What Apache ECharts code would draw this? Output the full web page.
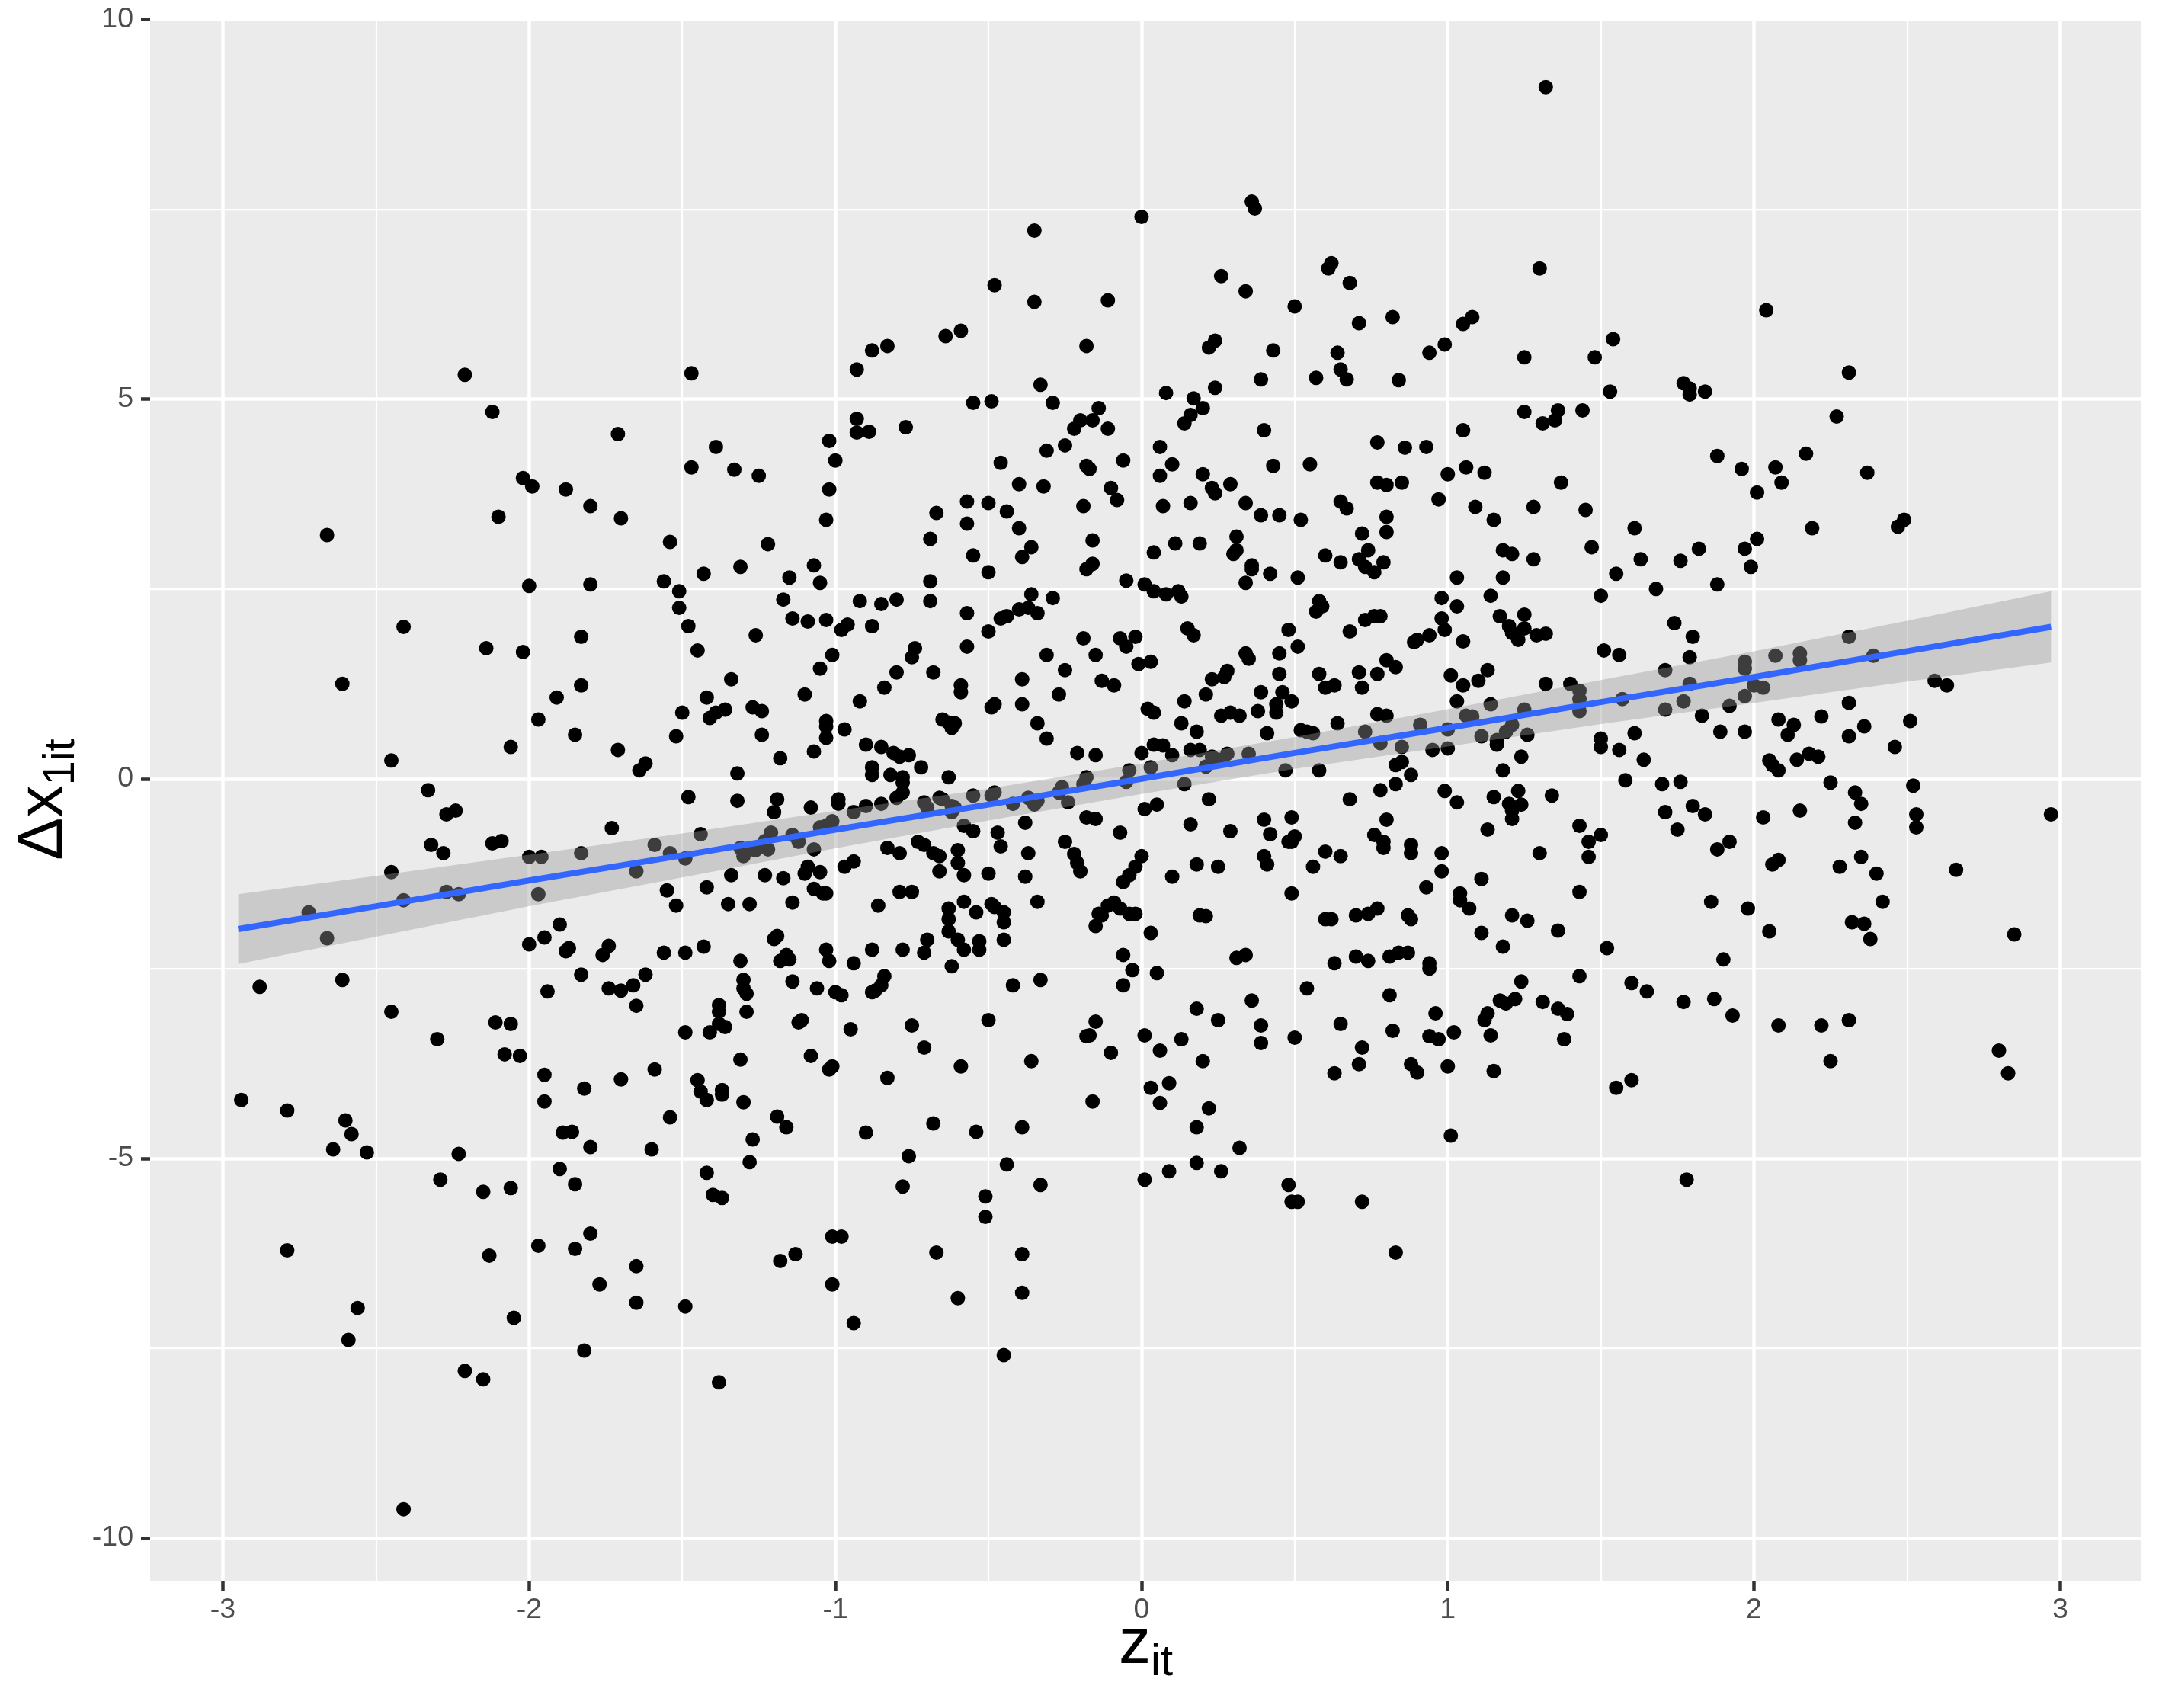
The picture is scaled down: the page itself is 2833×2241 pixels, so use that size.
<!DOCTYPE html>
<html>
<head>
<meta charset="utf-8">
<style>html,body{margin:0;padding:0;background:#fff}#c{width:2833px;height:2241px}</style>
<script src="https://cdn.jsdelivr.net/npm/echarts@6/dist/echarts.min.js"></script>
</head>
<body>
<div id="c"></div>
<script>
const xTicks=[-3,-2,-1,0,1,2,3];
const xMinor=[-2.5,-1.5,-0.5,0.5,1.5,2.5];
const yTicks=[-10,-5,0,5,10];
const yMinor=[-7.5,-2.5,2.5,7.5];
const xTitle='{a|z}{b|it}';
const yTitle='{a|Δx}{b|1it}';

const ribbonZ=[-2.95,-2.5,-2,-1.5,-1,-0.5,0,0.5,1,1.5,2,2.5,2.97];
const fitLine=[-1.98,-1.68,-1.34,-1.01,-0.67,-0.34,0,0.34,0.67,1.01,1.34,1.68,2.0];
const ribbonUpper=[-1.52,-1.28,-1.0,-0.72,-0.425,-0.13,0.2,0.55,0.915,1.3,1.68,2.08,2.47];
const ribbonLower=[-2.44,-2.08,-1.68,-1.3,-0.915,-0.55,-0.2,0.13,0.425,0.72,1.0,1.28,1.53];

const ptsA=[[-2.94,-4.23],[-2.88,-2.74],[-2.79,-6.21],[-2.79,-4.37],[-2.72,-1.76],[-2.66,3.21],[-2.66,-2.1],[-2.64,-4.88],[-2.61,1.25],[-2.61,-2.65],[-2.6,-4.5],[-2.59,-7.39],[-2.58,-4.68],[-2.56,-6.97],[-2.53,-4.92],[-2.45,0.24],[-2.45,-3.07],[-2.45,-1.23],[-2.41,-1.6],[-2.41,2.0],[-2.41,-9.62],[-2.33,-0.15],[-2.32,-0.87],[-2.3,-3.43],[-2.29,-5.28],[-2.28,-0.98],[-2.27,-1.49],[-2.27,-0.47],[-2.24,-0.42],[-2.23,-4.94],[-2.23,-1.52],[-2.21,-7.8],[-2.21,5.32],[-2.15,-7.91],[-2.15,-5.44],[-2.14,1.72],[-2.13,-6.28],[-2.12,-0.85],[-2.12,4.83],[-2.11,-3.21],[-2.1,3.45],[-2.09,-0.82],[-2.08,-3.63],[-2.06,-3.23],[-2.06,0.42],[-2.06,-5.39],[-2.05,-7.1],[-2.03,-3.65],[-2.02,1.67],[-2.02,3.96],[-2.0,-2.18]];
const ptsB=[[-2.0,-1.03],[-1.99,3.85],[-2.0,2.54],[-1.97,0.78],[-1.97,-1.52],[-1.97,-6.15],[-1.95,-3.9],[-1.95,-2.09],[-1.95,-4.25],[-1.94,-2.8],[-1.96,-1.03],[-1.91,1.07],[-1.9,-1.92],[-1.9,-5.14],[-1.89,-4.66],[-1.88,-2.27],[-1.88,3.81],[-1.87,-2.23],[-1.86,-4.65],[-1.85,-6.19],[-1.85,0.58],[-1.85,-5.34],[-1.83,1.23],[-1.83,1.87],[-1.83,-2.58],[-1.83,-0.98],[-1.82,-7.53],[-1.82,-4.08],[-1.8,3.59],[-1.8,2.56],[-1.8,-4.85],[-1.8,-5.99],[-1.77,-6.66],[-1.76,-2.32],[-1.74,-2.2],[-1.74,-2.76],[-1.73,-0.65],[-1.71,0.38],[-1.71,4.54],[-1.7,-2.79],[-1.7,3.43],[-1.7,-3.96],[-1.66,-2.72],[-1.65,-6.42],[-1.65,-2.99],[-1.65,-1.22],[-1.65,-6.9],[-1.64,0.11],[-1.62,0.2],[-1.62,-2.58],[-1.6,-4.88],[-1.59,-0.87],[-1.59,-3.83],[-1.56,-2.29],[-1.56,2.6],[-1.55,-1.47],[-1.54,-0.98],[-1.54,3.12],[-1.54,-4.46],[-1.52,0.56],[-1.52,-1.67]];
const ptsC=[[-1.51,2.47],[-1.51,2.25],[-1.5,0.87],[-1.49,-2.29],[-1.49,-3.34],[-1.49,-6.95],[-1.49,-1.05],[-1.48,2.01],[-1.48,-0.24],[-1.47,5.34],[-1.47,4.1],[-1.45,1.69],[-1.45,-3.97],[-1.44,-0.73],[-1.44,-4.12],[-1.43,-2.21],[-1.43,2.7],[-1.42,1.07],[-1.42,-5.19],[-1.42,-1.43],[-1.42,-4.23],[-1.41,-3.34],[-1.41,0.8],[-1.4,-5.48],[-1.39,4.37],[-1.39,0.87],[-1.38,-3.23],[-1.38,-7.95],[-1.38,-2.98],[-1.38,-3.07],[-1.37,-4.16],[-1.37,-5.52],[-1.37,-4.1],[-1.36,-3.27],[-1.36,0.91],[-1.35,-1.65],[-1.34,1.31],[-1.34,-1.27],[-1.33,4.07],[-1.32,0.07],[-1.32,-0.29],[-1.31,-3.7],[-1.31,2.79],[-1.31,-2.4],[-1.31,-0.91],[-1.3,-2.65],[-1.3,-2.76],[-1.3,-1.02],[-1.3,-4.26],[-1.29,-2.83],[-1.29,-3.07],[-1.28,-1.65],[-1.28,-5.05],[-1.27,0.94],[-1.27,-4.75],[-1.26,1.89],[-1.25,3.99],[-1.26,-0.94],[-1.24,0.89],[-1.24,0.58],[-1.23,-0.82],[-1.23,-1.27],[-1.22,3.09],[-1.22,-0.93],[-1.21,-0.71],[-1.2,-0.44],[-1.2,-2.11],[-1.19,-2.07],[-1.19,-0.27],[-1.19,-4.45],[-1.18,-6.35],[-1.18,0.27],[-1.18,-2.4],[-1.17,-1.31],[-1.17,2.36],[-1.16,-2.32],[-1.16,-4.59],[-1.15,-2.38],[-1.15,2.65],[-1.14,-1.63],[-1.14,-2.67],[-1.14,2.11],[-1.13,-6.26],[-1.12,-0.83],[-1.12,-3.21],[-1.11,-3.18],[-1.1,-1.25],[-1.1,1.11],[-1.09,2.07],[-1.09,-1.16],[-1.08,-3.65],[-1.08,-0.38],[-1.07,-1.45],[-1.07,0.36],[-1.07,-0.93],[-1.07,2.81],[-1.06,-2.76],[-1.05,1.45],[-1.05,2.58],[-1.05,-1.23],[-1.05,-0.64],[-1.04,-1.51],[-1.03,3.41],[-1.03,-2.25],[-1.03,2.09],[-1.03,0.54],[-1.03,0.76],[-1.02,3.81],[-1.02,4.45],[-1.03,0.69],[-1.03,-1.51],[-1.02,-2.4],[-1.02,-3.83],[-1.01,-0.56],[-1.01,-6.03],[-1.01,-6.66],[-1.01,-3.79],[-1.01,1.63],[-1.0,4.19],[-1.0,-2.81],[-0.99,-0.33],[-0.99,-0.27],[-0.98,1.96],[-0.98,-6.03],[-0.98,-2.85],[-0.97,0.65],[-0.97,-1.16]];
const ptsD=[[-0.96,2.03],[-0.95,-3.3],[-0.94,-2.43],[-0.94,-7.17],[-0.94,-1.09],[-0.93,5.39],[-0.93,4.74],[-0.93,4.56],[-0.92,1.02],[-0.92,2.34],[-0.9,-4.66],[-0.9,-0.36],[-0.9,0.45],[-0.89,4.57],[-0.88,5.64],[-0.88,2.01],[-0.88,0.15],[-0.88,0.05],[-0.88,-2.25],[-0.88,-2.81],[-0.87,-2.79],[-0.86,-1.67],[-0.85,2.3],[-0.85,-2.72],[-0.85,0.42],[-0.85,-0.33],[-0.84,-2.6],[-0.84,1.2],[-0.83,5.7],[-0.83,-0.91],[-0.83,-3.94],[-0.82,0.05],[-0.81,0.34],[-0.8,1.4],[-0.8,2.36],[-0.79,0.29],[-0.79,-0.98],[-0.79,-1.49],[-0.78,-0.18],[-0.78,-0.05],[-0.78,0.02],[-0.78,-5.37],[-0.78,-2.25],[-0.77,4.63],[-0.76,0.31],[-0.76,-4.97],[-0.75,-1.49],[-0.75,-3.25],[-0.75,1.6],[-0.74,1.72],[-0.73,-0.83],[-0.72,0.15],[-0.71,-0.87],[-0.71,-2.29],[-0.71,-0.31],[-0.71,-3.54],[-0.7,-2.12],[-0.69,2.6],[-0.69,2.34],[-0.69,3.16],[-0.68,-0.98],[-0.68,1.4],[-0.68,-4.54],[-0.67,3.5],[-0.67,-6.24],[-0.66,-0.25],[-0.66,-1.02],[-0.66,-1.22],[-0.65,0.78],[-0.65,-0.27],[-0.64,5.83],[-0.63,-1.71],[-0.63,-1.85],[-0.63,0.74],[-0.63,0.02],[-0.63,-2.01],[-0.62,-0.36],[-0.62,0.67],[-0.62,-0.44],[-0.62,-2.47],[-0.61,0.73],[-0.6,-2.12],[-0.6,-0.94],[-0.6,-6.84],[-0.6,-1.11],[-0.59,-3.79],[-0.59,5.9],[-0.59,1.23],[-0.59,1.14],[-0.58,-2.25],[-0.58,-1.62],[-0.58,-0.62],[-0.58,-1.27],[-0.57,3.36],[-0.57,3.65],[-0.57,2.18],[-0.57,1.74],[-0.55,4.95],[-0.55,2.94],[-0.55,-0.69],[-0.55,-0.22],[-0.54,-4.65],[-0.54,-1.76],[-0.53,-2.14],[-0.53,-2.25],[-0.51,-5.5],[-0.51,-5.77],[-0.5,2.72],[-0.5,3.63],[-0.5,-1.25],[-0.5,1.94],[-0.5,-3.18]];
const ptsE=[[-0.49,4.97],[-0.49,0.94],[-0.49,-1.65],[-0.48,0.98],[-0.48,6.5],[-0.48,-1.69],[-0.48,-0.18],[-0.47,-0.71],[-0.46,4.16],[-0.46,-0.89],[-0.46,2.11],[-0.45,-1.76],[-0.45,-2.12],[-0.45,-1.89],[-0.45,-7.59],[-0.44,-5.08],[-0.44,2.14],[-0.44,3.52],[-0.42,-2.72],[-0.4,2.23],[-0.4,3.88],[-0.4,3.3],[-0.39,1.31],[-0.39,0.98],[-0.39,-6.77],[-0.39,-4.59],[-0.39,-6.26],[-0.38,-0.58],[-0.39,2.92],[-0.38,-1.29],[-0.37,2.25],[-0.36,-3.72],[-0.36,2.43],[-0.35,7.22],[-0.36,3.05],[-0.35,6.28],[-0.35,-0.34],[-0.34,2.18],[-0.34,0.73],[-0.34,-0.29],[-0.34,-1.62],[-0.33,-5.35],[-0.33,5.19],[-0.33,-2.65],[-0.32,3.85],[-0.31,4.32],[-0.31,1.63],[-0.31,0.53],[-0.29,2.38],[-0.29,4.95],[-0.27,1.11],[-0.27,-0.18],[-0.25,4.39],[-0.25,1.43],[-0.25,-0.83],[-0.24,-0.31],[-0.22,-0.99],[-0.22,4.61],[-0.21,-1.11],[-0.21,0.34],[-0.2,4.72],[-0.2,-1.22],[-0.19,3.59],[-0.19,1.85],[-0.18,2.76],[-0.18,4.12],[-0.18,0.02],[-0.18,-3.39],[-0.18,5.7],[-0.18,-0.51],[-0.17,4.08],[-0.17,-3.38],[-0.16,3.14],[-0.16,2.83],[-0.16,4.72],[-0.16,-4.25],[-0.15,1.63],[-0.15,0.31],[-0.15,-0.53],[-0.15,-1.94],[-0.15,-3.2],[-0.14,4.88],[-0.14,-1.78],[-0.13,1.29],[-0.13,-1.8],[-0.11,6.3],[-0.11,4.61],[-0.11,-1.67],[-0.1,3.83],[-0.1,-3.61],[-0.09,-1.63],[-0.09,1.23],[-0.08,3.67],[-0.07,1.85],[-0.07,-1.71],[-0.07,-0.71],[-0.06,-2.72],[-0.06,-2.32],[-0.06,4.19],[-0.06,-1.36],[-0.05,-0.04],[-0.05,2.61],[-0.05,1.74],[-0.04,-1.78],[-0.04,-1.27],[-0.03,-2.52],[-0.02,-1.78],[-0.02,1.87],[-0.02,-1.16],[-0.01,1.51],[0,-1.02],[0,7.4],[0,0.34],[0.01,2.56],[0.01,-3.38]];
const ptsF=[[0.01,-5.28],[0.01,-0.4],[0.03,-2.03],[0.03,-4.07],[0.03,1.54],[0.04,2.47],[0.04,0.87],[0.04,0.45],[0.04,2.98],[0.05,-0.34],[0.05,-2.56],[0.06,4.37],[0.06,-3.58],[0.06,3.99],[0.06,-4.27],[0.07,0.44],[0.07,3.59],[0.08,5.08],[0.09,-4.01],[0.09,-5.17],[0.1,-1.29],[0.1,4.14],[0.11,3.1],[0.12,2.47],[0.13,0.73],[0.13,-3.43],[0.14,-0.07],[0.14,4.68],[0.15,1.98],[0.16,3.63],[0.16,-0.6],[0.16,0.38],[0.16,4.79],[0.17,5.01],[0.18,0.62],[0.18,-3.03],[0.18,-5.06],[0.18,-1.13],[0.18,-4.59],[0.19,-1.8],[0.19,3.1],[0.2,4.88],[0.2,4.01],[0.2,-3.72],[0.21,-1.81],[0.22,-4.34],[0.22,-0.27],[0.22,5.68],[0.23,3.83],[0.24,3.76],[0.24,5.77],[0.24,5.15],[0.25,-1.16],[0.25,-3.18],[0.26,-5.17],[0.26,6.62],[0.27,1.34],[0.28,1.42],[0.29,3.88],[0.29,0.87],[0.29,-0.69],[0.3,2.96],[0.31,3.19],[0.31,3.01],[0.32,-4.86],[0.32,0.83],[0.31,-2.36],[0.34,-2.32],[0.34,6.42],[0.34,3.63],[0.34,2.58],[0.34,1.65],[0.35,1.58],[0.36,7.6],[0.37,7.51],[0.36,2.81],[0.36,2.76],[0.36,-2.92],[0.39,3.47],[0.39,-3.25],[0.39,-3.48],[0.39,5.26],[0.4,4.59],[0.4,-0.54],[0.4,-1.02],[0.41,-1.13],[0.41,0.6],[0.42,2.7],[0.42,-0.73],[0.43,5.64],[0.43,4.12],[0.44,0.98],[0.44,0.87],[0.45,3.47],[0.45,1.65],[0.46,1.14],[0.47,0.11],[0.48,-0.83],[0.48,1.96],[0.48,-5.35],[0.49,-5.57],[0.49,-0.51],[0.49,1.02],[0.49,-0.83],[0.49,-1.51],[0.5,-3.41],[0.5,-0.76],[0.5,6.22],[0.51,-5.57],[0.51,2.65],[0.51,1.74],[0.52,3.41],[0.52,0.64]];
const ptsG=[[0.54,-2.76],[0.55,4.14],[0.56,-1.16],[0.56,0.6],[0.57,5.28],[0.57,2.2],[0.58,2.34],[0.58,0.11],[0.59,2.27],[0.6,1.2],[0.6,-0.96],[0.6,-1.85],[0.6,2.94],[0.61,6.72],[0.62,6.79],[0.62,-1.85],[0.63,-3.88],[0.63,-2.43],[0.64,5.61],[0.64,0.73],[0.65,2.85],[0.65,-3.23],[0.65,5.39],[0.65,3.65],[0.65,-1.02],[0.67,3.56],[0.67,5.26],[0.68,6.53],[0.68,-0.27],[0.68,1.94],[0.7,-1.8],[0.7,-2.34],[0.71,2.89],[0.71,-3.76],[0.71,1.4],[0.71,6.0],[0.72,3.23],[0.72,1.2],[0.72,-3.54],[0.72,-5.57],[0.73,2.09],[0.73,0.62],[0.73,2.79],[0.74,-1.78],[0.74,3.01],[0.74,-2.4],[0.76,2.14],[0.76,-0.74],[0.76,2.72],[0.77,4.43],[0.77,3.9],[0.77,-1.71],[0.77,0.85],[0.78,-0.15],[0.78,2.14],[0.78,0.47],[0.79,2.85],[0.79,-0.83],[0.79,-0.91],[0.8,3.87],[0.8,3.25],[0.8,-0.54],[0.8,3.45],[0.8,1.56],[0.81,-2.34],[0.81,-2.85],[0.82,6.08],[0.82,-3.32],[0.83,1.47],[0.83,-6.24],[0.84,5.25],[0.83,-0.07],[0.83,0.18],[0.84,-2.29],[0.85,3.9],[0.85,0.42],[0.85,0.22],[0.86,4.36],[0.87,-1.8],[0.87,-2.29],[0.88,-1.85],[0.88,0.05],[0.88,-0.87],[0.88,-0.98],[0.88,-3.76],[0.89,1.8],[0.9,-3.87],[0.9,1.83],[0.91,0.71],[0.93,4.37],[0.93,-1.43],[0.94,5.61],[0.94,1.89],[0.94,-2.43],[0.94,-2.5],[0.95,0.38],[0.94,-3.39],[0.97,3.68],[0.96,-3.09],[0.97,-3.43],[0.98,-1.22],[0.98,-0.98],[0.98,2.38],[0.98,2.11],[0.99,5.72],[0.99,-0.16],[1.0,-3.79],[1.0,4.01],[1.0,0.4],[0.99,1.96]];
const ptsH=[[1.01,1.36],[1.01,-4.7],[1.02,-3.34],[1.03,2.27],[1.03,2.65],[1.03,1.02],[1.03,-0.31],[1.04,-1.51],[1.04,-1.6],[1.05,5.99],[1.05,1.81],[1.05,1.23],[1.05,4.59],[1.06,4.1],[1.07,-1.71],[1.08,6.08],[1.08,0.82],[1.09,3.58],[1.1,1.29],[1.11,-1.32],[1.11,-2.03],[1.11,0.56],[1.12,4.03],[1.12,-3.18],[1.13,-3.09],[1.13,1.43],[1.13,-0.67],[1.14,2.41],[1.14,-3.38],[1.15,3.41],[1.15,-0.24],[1.15,-3.85],[1.16,0.45],[1.16,0.51],[1.17,-2.92],[1.17,2.14],[1.18,3.01],[1.18,-2.21],[1.18,0.11],[1.19,0.62],[1.18,2.65],[1.19,-2.96],[1.2,2.01],[1.2,-0.33],[1.21,-1.8],[1.21,1.92],[1.21,2.96],[1.21,-0.42],[1.21,-0.53],[1.21,0.71],[1.22,-2.9],[1.23,-0.16],[1.23,1.83],[1.24,0.29],[1.24,-0.34],[1.24,-2.67],[1.25,4.83],[1.25,2.16],[1.25,5.55],[1.25,1.98],[1.26,0.58],[1.26,-1.87],[1.28,2.89],[1.28,3.58],[1.29,1.89],[1.3,6.72],[1.3,-0.98],[1.31,4.68],[1.31,-2.94],[1.32,1.25],[1.32,1.91],[1.32,9.11],[1.34,-0.22],[1.35,4.72],[1.36,-3.03],[1.36,-2.0],[1.36,4.85],[1.37,3.9],[1.39,-3.1],[1.38,-3.43],[1.43,1.05],[1.43,1.16],[1.43,0.89],[1.43,-0.62],[1.43,-1.49],[1.43,-2.6],[1.44,4.85],[1.45,3.54],[1.46,-1.03],[1.46,-0.83],[1.47,3.05],[1.48,5.55],[1.5,0.53],[1.5,-0.74],[1.5,2.41],[1.5,0.42],[1.51,1.69]];
const ptsI=[[1.52,-2.23],[1.53,5.1],[1.54,5.79],[1.55,2.7],[1.56,0.38],[1.55,-4.07],[1.56,1.63],[1.57,1.05],[1.58,-0.02],[1.6,-2.69],[1.61,3.3],[1.6,-3.97],[1.61,0.6],[1.63,2.89],[1.64,0.25],[1.65,-2.8],[1.68,2.5],[1.7,-0.07],[1.71,-0.44],[1.71,1.43],[1.71,0.91],[1.74,2.05],[1.75,-0.67],[1.76,-0.04],[1.76,2.87],[1.77,1.02],[1.77,5.21],[1.77,-2.94],[1.78,-5.28],[1.79,5.14],[1.79,1.25],[1.79,1.6],[1.79,5.06],[1.8,1.87],[1.8,-0.36],[1.82,3.03],[1.83,0.83],[1.84,5.1],[1.84,-0.47],[1.86,-1.62],[1.88,-0.93],[1.87,-2.9],[1.88,2.56],[1.88,4.25],[1.89,0.62],[1.9,-2.38],[1.92,-0.83],[1.92,0.96],[1.93,-3.12],[1.96,4.08],[1.97,3.03],[1.97,0.62],[1.97,1.09],[1.97,1.54],[1.97,1.45],[1.98,-1.71],[1.99,2.79],[2.0,1.23]];
const ptsJ=[[2.01,3.77],[2.01,3.16],[2.03,1.2],[2.03,-0.51],[2.04,6.17],[2.05,-2.01],[2.05,0.24],[2.06,0.18],[2.06,-1.13],[2.07,1.62],[2.07,4.1],[2.08,0.11],[2.08,0.78],[2.08,-3.25],[2.08,-1.07],[2.09,3.9],[2.11,0.58],[2.13,0.71],[2.14,0.25],[2.15,1.65],[2.15,1.56],[2.15,-0.42],[2.17,4.28],[2.18,0.33],[2.19,3.3],[2.21,0.29],[2.22,-3.25],[2.22,0.82],[2.25,-3.72],[2.25,-0.05],[2.27,4.77],[2.28,-1.16],[2.31,-3.18],[2.31,5.35],[2.31,1.87],[2.31,1.0],[2.31,0.56],[2.32,-1.89],[2.33,-0.18],[2.33,-0.58],[2.35,-0.33],[2.35,-1.03],[2.36,-1.91],[2.36,0.69],[2.37,4.03],[2.38,-2.11],[2.39,1.62],[2.4,-1.25],[2.42,-1.62],[2.46,0.42],[2.47,3.32],[2.49,3.41],[2.51,0.76],[2.52,-0.09],[2.53,-0.47],[2.53,-0.64],[2.59,1.29],[2.63,1.23],[2.66,-1.2],[2.8,-3.58],[2.83,-3.88],[2.85,-2.05],[2.97,-0.47]];
const ptsBand=[[-1.27,-0.93],[-1.14,-0.74],[-1.03,-0.62],[-0.94,-0.44],[-0.8,-0.25],[-0.7,-0.38],[-0.61,-0.38],[-0.49,-0.22],[-0.42,-0.33],[-0.37,-0.25],[-0.26,-0.11],[-0.19,-0.07],[-0.04,0.11],[0.03,0.15],[0.1,0.31],[0.19,0.38],[0.25,0.25],[0.28,0.33],[0.35,0.33],[0.54,0.62],[0.8,0.83],[1.0,0.65],[1.06,0.83],[1.14,0.98],[1.25,0.91],[1.4,1.25]];
const ptsCentre=[[0.17,1.89],[0.23,1.31],[0.13,2.4],[0.08,2.43],[0.39,1.14],[0.45,1.38],[0.38,0.89],[0.58,1.38],[0.63,1.23],[0.77,1.38],[0.02,0.92],[0.14,1.02],[0.21,1.11],[0.26,0.83],[0.21,0.16],[0.23,0.29],[-0.37,-0.98]];

const points=[].concat(ptsA,ptsB,ptsC,ptsD,ptsE,ptsF,ptsG,ptsH,ptsI,ptsJ,ptsBand,ptsCentre);
const ribbonRows=ribbonZ.map((z,i)=>[z,ribbonUpper[i],ribbonLower[i]]);
const lineRows=ribbonZ.map((z,i)=>[z,fitLine[i]]);

const FONT='"Liberation Sans", Arial, Helvetica, sans-serif';
const X_MIN=-3.2377,X_MAX=3.2654,Y_MIN=-10.572,Y_MAX=10.025;
const chart=echarts.init(document.getElementById('c'),null,{renderer:'canvas'});
function hiddenAxis(min,max,vals,pos){
  return {type:'value',min,max,position:pos,
    axisLine:{show:false,onZero:false},axisLabel:{show:false},
    axisTick:{show:false,customValues:vals},
    splitLine:{show:true,lineStyle:{color:'#fff',width:2.25}}};
}
function titleRich(){return {
  a:{fontFamily:FONT,fontSize:84,color:'#000'},
  b:{fontFamily:FONT,fontSize:58,color:'#000',padding:[46,0,0,0]}
};}
chart.setOption({
  animation:false,
  backgroundColor:'#fff',
  grid:{left:197,top:23,width:2613,height:2052,show:true,backgroundColor:'#EBEBEB',borderWidth:0,containLabel:false,outerBoundsMode:'none'},
  xAxis:[{type:'value',min:X_MIN,max:X_MAX,position:'bottom',
      name:xTitle,nameLocation:'middle',nameGap:32,nameMoveOverlap:false,nameTextStyle:{rich:titleRich()},
      axisLine:{show:false,onZero:false},
      axisTick:{show:true,length:12,lineStyle:{color:'#333',width:4.5},customValues:xTicks},
      axisLabel:{show:true,margin:19,fontFamily:FONT,fontSize:37.5,color:'#4D4D4D',customValues:xTicks},
      splitLine:{show:true,lineStyle:{color:'#fff',width:4.5}}},
    hiddenAxis(X_MIN,X_MAX,xMinor,'top')],
  yAxis:[{type:'value',min:Y_MIN,max:Y_MAX,position:'left',
      name:yTitle,nameLocation:'middle',nameGap:87,nameRotate:90,nameTextStyle:{rich:titleRich()},
      axisLine:{show:false,onZero:false},
      axisTick:{show:true,length:12,lineStyle:{color:'#333',width:4.5},customValues:yTicks},
      axisLabel:{show:true,margin:22,fontFamily:FONT,fontSize:37.5,color:'#4D4D4D',customValues:yTicks},
      splitLine:{show:true,lineStyle:{color:'#fff',width:4.5}}},
    hiddenAxis(Y_MIN,Y_MAX,yMinor,'right')],
  series:[
    {type:'scatter',data:points,symbol:'circle',symbolSize:19,itemStyle:{color:'#000',opacity:1},silent:true,z:2,large:false,progressive:0,animation:false},
    {type:'custom',data:ribbonRows,z:3,silent:true,clip:true,encode:{x:0,y:[1,2]},
      renderItem:function(params,api){
        if(params.dataIndex!==0) return null;
        const up=ribbonRows.map(r=>api.coord([r[0],r[1]]));
        const lo=ribbonRows.map(r=>api.coord([r[0],r[2]])).reverse();
        return {type:'polygon',shape:{points:up.concat(lo)},style:{fill:'rgba(153,153,153,0.4)',stroke:'none'}};
      }},
    {type:'line',data:lineRows,showSymbol:false,symbol:'none',smooth:false,z:4,silent:true,
      lineStyle:{color:'#3366FF',width:8,cap:'butt'}}
  ]
});
</script>
</body>
</html>
